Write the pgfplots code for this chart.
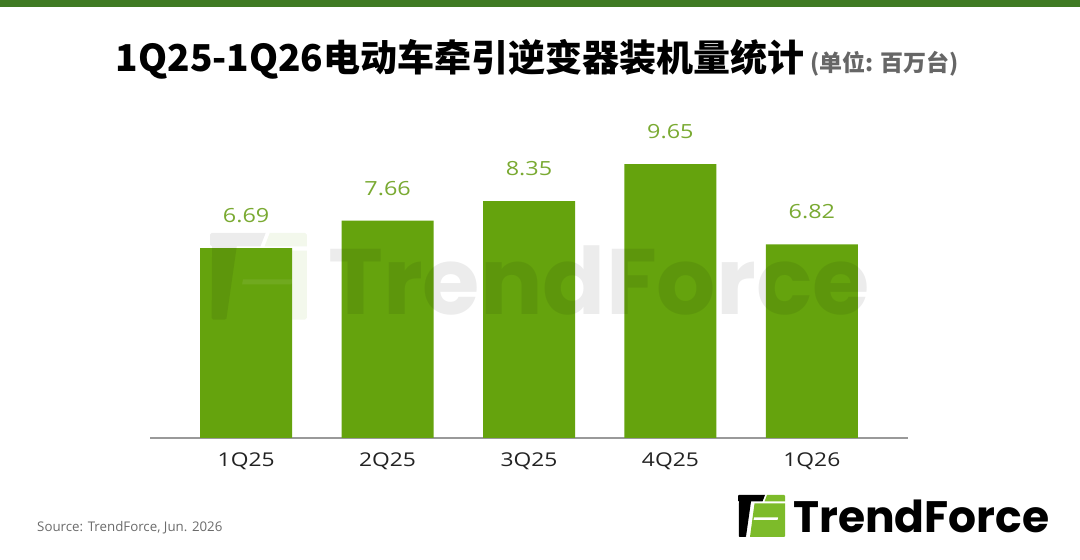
\documentclass[border=0pt]{standalone}
\usepackage{fontspec}
\usepackage{pgfplots}
\pgfplotsset{compat=1.18}
\setmainfont{Open Sans}
\newfontfamily\lab{Open Sans}[FakeStretch=1.2]
\newfontfamily\cjk{Noto Sans CJK SC}
\newfontfamily\logo{Poppins}
\definecolor{barc}{HTML}{65A30D}
\definecolor{vallab}{HTML}{7AAA32}
\definecolor{ticklab}{HTML}{222222}
\definecolor{axisgray}{HTML}{999999}
\definecolor{topband}{HTML}{3F7A23}
\definecolor{subgray}{HTML}{666666}
\definecolor{srcgray}{HTML}{6B6B6B}
\definecolor{logogreen}{HTML}{7DBB2A}
\newcommand\tficon[6]{%
\begin{scope}[shift={(#1pt,#2pt)}, x=#3pt, y=-#3pt, opacity=#6]
\fill[#4] (0,0.8) -- (0.8,0) -- (27,0) -- (24.5,6.5) -- (13,6.5) -- (8,41.5) -- (7.2,42) -- (1.5,42) -- (0.8,41.2) -- (1,6.5) -- (0,5.7) -- cycle;
\fill[#5] (29,0) -- (46.2,0) -- (47,0.8) -- (47,6.5) -- (26.5,6.5) -- cycle;
\fill[#5] (16.5,8.5) -- (47,8.5) -- (47,41.2) -- (46.2,42) -- (12,42) -- cycle;
\fill[white] (16,22.5) -- (40,22.5) -- (39.5,25) -- (15.6,25) -- cycle;
\end{scope}}
\begin{document}
\begin{tikzpicture}
\useasboundingbox (0,0) rectangle (1080pt,560pt);
\fill[white] (0,0) rectangle (1080pt,560pt);
\fill[topband] (0,553pt) rectangle (1080pt,560pt);
\node[anchor=base, inner sep=0pt] at (537.5pt,488pt) {\cjk\fontsize{37}{40}\selectfont\bfseries 1Q25-1Q26电动车牵引逆变器装机量统计\hspace{6pt}{\color{subgray}\fontsize{23}{26}\selectfont(单位: 百万台)}};
\begin{axis}[at={(150pt,122pt)}, anchor=south west, scale only axis,
  width=758pt, height=298pt, xmin=-0.68, xmax=4.68, ymin=0, ymax=10.5,
  axis x line*=bottom, axis y line=none,
  x axis line style={-, draw=axisgray, line width=1.3pt},
  xtick=data, xticklabels={1Q25,2Q25,3Q25,4Q25,1Q26}, major tick length=0,
  xticklabel style={anchor=center, yshift=-23pt, font=\lab\fontsize{19}{20}\selectfont, text=ticklab},
  ybar, bar width=92pt, nodes near coords, point meta=explicit symbolic,
  every node near coord/.append style={anchor=center, yshift=32.5pt, font=\lab\fontsize{19.5}{20}\selectfont, text=vallab},
  clip=false]
\addplot[fill=barc, draw=none] coordinates {(0,6.69)[6.69] (1,7.66)[7.66] (2,8.35)[8.35] (3,9.65)[9.65] (4,6.82)[6.82]};
\end{axis}
% watermark
\tficon{210}{327}{2.06}{black}{barc}{0.075}
\node[anchor=base west, inner sep=0pt, font=\logo\bfseries\fontsize{93}{100}\selectfont, text=black, opacity=0.075] at (328pt,245pt) {TrendForce};
% source
\node[anchor=base west, inner sep=0pt, font=\fontsize{13.3}{16}\selectfont, text=srcgray] at (37pt,28pt) {Source: TrendForce, Jun. 2026};
% logo
\tficon{738}{65}{1}{black}{logogreen}{1}
\node[anchor=base west, inner sep=0pt, font=\logo\bfseries\fontsize{44}{48}\selectfont, text=black] at (793pt,27pt) {TrendForce};
\end{tikzpicture}
\end{document}
